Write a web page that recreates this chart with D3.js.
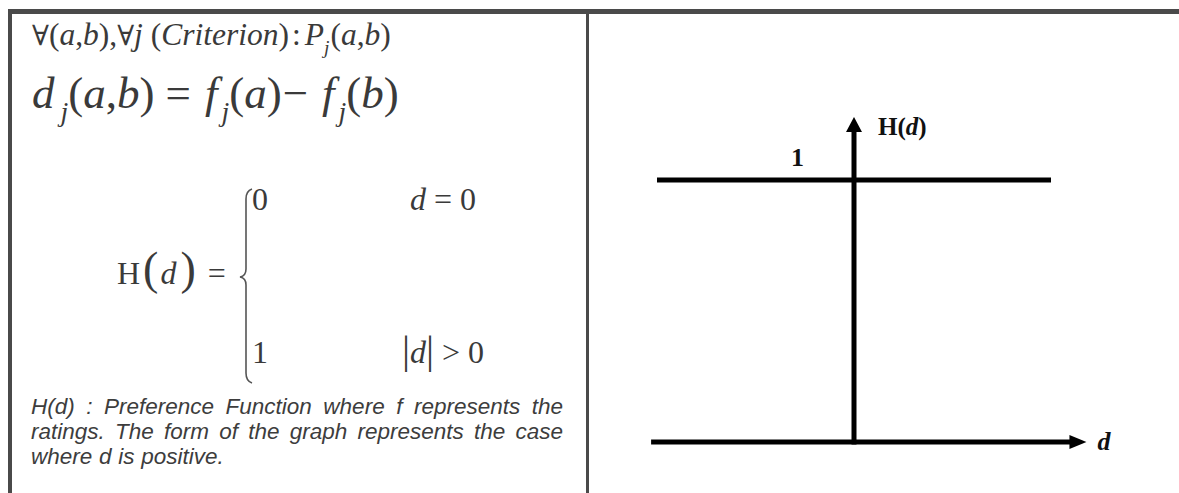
<!DOCTYPE html>
<html>
  <body>
    <script src="https://cdn.jsdelivr.net/npm/d3@7"></script>
    <style>
      body{ margin: 0; background: #fff;}
      svg{ display: block;}
      .eq{ font-family: "Liberation Serif", "Times New Roman", serif; fill: #3a3a3a;}
      .note{ font-family: "Liberation Sans", Arial, sans-serif; font-style: italic; fill: #3d3d3d;}
      .lab{ font-family: "Liberation Serif", "Times New Roman", serif; font-weight: bold; fill: #111;}
    </style>
    <script>
// step function H(d), sampled at the ends and at 0
var dValues = [-1, 0, 1]
  , hValues = [1, 1, 1]
  , dAxisExtent = [-1.03, 1.18]
  , hAxisExtent = [0, 1.24]
  , hTicks = ['1']
  , axisTitles = ['H(d)', 'd']
  , caseValues = ['0', '1']
  , caseConditions = ['d = 0', '|d| > 0']
  , noteLines = [
      'H(d) : Preference Function where f represents the',
      'ratings. The form of the graph represents the case',
      'where d is positive.'
    ]

var W = 1179, H = 493, frame = '#4a4a4a'
var svg = d3.select('body').append('svg').attr('width', W).attr('height', H)

// frame: top bar, left bar, middle divider
svg.append('rect').attr('x', 8).attr('y', 9).attr('width', W - 8).attr('height', 5).attr('fill', frame)
svg.append('rect').attr('x', 8).attr('y', 9).attr('width', 4).attr('height', H - 9).attr('fill', frame)
svg.append('rect').attr('x', 586).attr('y', 9).attr('width', 3).attr('height', H - 9).attr('fill', frame)

// math line built from tspans; s = sub-script, z = own size, f = own font
function eq(x, y, size, segs){
  var t = svg.append('text').attr('class', 'eq').attr('x', x).attr('y', y).attr('font-size', size)
  var low = false
  segs.forEach(function(s){
    var sp = t.append('tspan').text(s.t)
    if (s.i) sp.attr('font-style', 'italic')
    var dy = 0
    if (s.s && !low){ dy = size * 0.28; low = true }
    else if (!s.s && low){ dy = -size * 0.28; low = false }
    if (dy) sp.attr('dy', dy)
    if (s.s) sp.attr('font-size', size * 0.62)
    if (s.z) sp.attr('font-size', s.z)
    if (s.f) sp.attr('font-family', s.f)
    if (s.dx) sp.attr('dx', s.dx)
  })
  return t
}

var fa = '"DejaVu Serif", serif'
eq(32, 45, 31.5, [
  {t: '\u2200', f: fa, z: 28}, {t: '('}, {t: 'a', i: 1}, {t: ','}, {t: 'b', i: 1}, {t: '),'},
  {t: '\u2200', f: fa, z: 28}, {t: 'j', i: 1},
  {t: ' ('}, {t: 'Criterion', i: 1}, {t: ')'}, {t: ':', dx: 3}, {t: 'P', i: 1, dx: 4}, {t: 'j', i: 1, s: 1},
  {t: '(', dx: 1}, {t: 'a', i: 1}, {t: ','}, {t: 'b', i: 1}, {t: ')'}
])

eq(32, 108, 45, [
  {t: 'd', i: 1}, {t: 'j', i: 1, s: 1, dx: 6}, {t: '('}, {t: 'a', i: 1}, {t: ','}, {t: 'b', i: 1},
  {t: ')'}, {t: '=', dx: 11}, {t: 'f', i: 1, dx: 14}, {t: 'j', i: 1, s: 1, dx: 4}, {t: '('}, {t: 'a', i: 1}, {t: ')'},
  {t: '\u2212', dx: 1}, {t: 'f', i: 1, dx: 14}, {t: 'j', i: 1, s: 1, dx: 4}, {t: '('}, {t: 'b', i: 1}, {t: ')'}
])

// H(d) = { cases
eq(117, 284, 32, [
  {t: 'H'}, {t: '(', z: 46, dx: 3}, {t: 'd', i: 1, dx: 2}, {t: ')', z: 46, dx: 4}, {t: '=', dx: 12}
])
var bx = 246, bt = 189, bb = 383, bm = 277
svg.append('path')
  .attr('d', 'M' + (bx + 6) + ',' + bt + ' Q' + bx + ',' + (bt + 2) + ' ' + bx + ',' + (bt + 10)
    + ' L' + bx + ',' + (bm - 8) + ' Q' + bx + ',' + (bm - 1) + ' ' + (bx - 6) + ',' + bm
    + ' Q' + bx + ',' + (bm + 1) + ' ' + bx + ',' + (bm + 8)
    + ' L' + bx + ',' + (bb - 10) + ' Q' + bx + ',' + (bb - 2) + ' ' + (bx + 6) + ',' + bb)
  .attr('fill', 'none').attr('stroke', '#555').attr('stroke-width', 1.6)

var caseY = [210, 363]
caseValues.forEach(function(v, k){
  eq(252, caseY[k], 32, [{t: v}])
})
eq(410, caseY[0], 32, [{t: caseConditions[0].slice(0, 1), i: 1}, {t: caseConditions[0].slice(1)}])
eq(402, caseY[1], 32, [{t: '|', z: 40}, {t: 'd', i: 1}, {t: '|', z: 40}, {t: caseConditions[1].slice(3)}])

// footnote, justified by hand
var noteX0 = 31, noteX1 = 563, noteY = [414, 439, 464], noteSize = 22.5
noteLines.forEach(function(line, k){
  var words = line.split(' ')
  var g = svg.append('g').attr('class', 'note').attr('font-size', noteSize)
  var ws = words.map(function(w){ return g.append('text').attr('y', noteY[k]).text(w) })
  var lens = ws.map(function(t){ return t.node().getComputedTextLength() })
  var total = d3.sum(lens)
  var gap = k < noteLines.length - 1 ? (noteX1 - noteX0 - total) / (words.length - 1) : noteSize * 0.3
  var cx = noteX0
  ws.forEach(function(t, j){ t.attr('x', cx); cx += lens[j] + gap })
})

// right panel: the step function
var x = d3.scaleLinear().domain([-1, 1]).range([657, 1051])
  , y = d3.scaleLinear().domain([0, 1]).range([442, 180])
  , lw = 5

var line = d3.line().x(function(d, i){ return x(dValues[i]) }).y(function(d){ return y(d) })
svg.append('path').datum(hValues).attr('d', line).attr('fill', 'none').attr('stroke', '#000').attr('stroke-width', lw)

// d axis with arrow
var dTip = x(dAxisExtent[1])
svg.append('line').attr('x1', x(dAxisExtent[0])).attr('x2', dTip - 14).attr('y1', y(0)).attr('y2', y(0))
  .attr('stroke', '#000').attr('stroke-width', lw)
svg.append('path').attr('d', 'M' + dTip + ',' + y(0) + 'L' + (dTip - 17) + ',' + (y(0) - 7) + 'L' + (dTip - 17) + ',' + (y(0) + 7) + 'Z')

// H axis with arrow
var hTip = y(hAxisExtent[1])
svg.append('line').attr('x1', x(0)).attr('x2', x(0)).attr('y1', y(0) + lw / 2).attr('y2', hTip + 12)
  .attr('stroke', '#000').attr('stroke-width', lw)
svg.append('path').attr('d', 'M' + x(0) + ',' + hTip + 'L' + (x(0) - 8) + ',' + (hTip + 15) + 'L' + (x(0) + 8) + ',' + (hTip + 15) + 'Z')

// labels
svg.append('text').attr('class', 'lab').attr('x', x(0) - 63).attr('y', y(1) - 14).attr('font-size', 26).text(hTicks[0])
var ht = svg.append('text').attr('class', 'lab').attr('x', x(0) + 24).attr('y', hTip + 18).attr('font-size', 25)
ht.append('tspan').text(axisTitles[0].slice(0, 2))
ht.append('tspan').attr('font-style', 'italic').text(axisTitles[0].slice(2, 3))
ht.append('tspan').text(axisTitles[0].slice(3))
svg.append('text').attr('class', 'lab').attr('font-style', 'italic').attr('x', dTip + 11).attr('y', y(0) + 8)
  .attr('font-size', 26).text(axisTitles[1])
    </script>
  </body>
</html>
